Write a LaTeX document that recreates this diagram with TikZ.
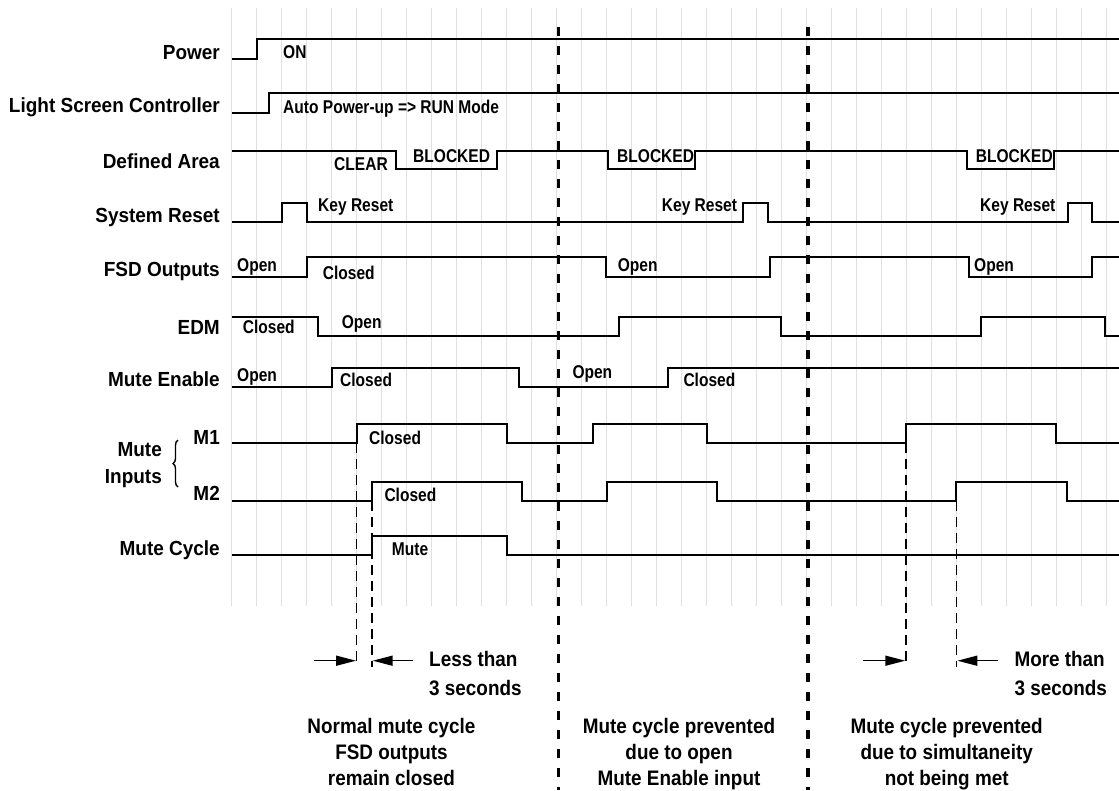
\documentclass[tikz,border=0pt]{standalone}
\usepackage{fontspec}
\setmainfont{Liberation Sans}
\newfontfamily\nf{Liberation Sans}[FakeStretch=0.84]
\newfontfamily\wf{Liberation Sans}[FakeStretch=0.93]
\newfontfamily\capf{Liberation Sans}[FakeStretch=0.9]
\usetikzlibrary{arrows.meta,decorations.pathreplacing}
\tikzset{
  sig/.style={line width=2pt,line join=miter},
  grid/.style={line width=0.9pt,draw=black!12},
  sep/.style={line width=3.3pt,dash pattern=on 8.5pt off 10.5pt},
  tmark/.style={line width=1.3pt,dash pattern=on 10pt off 6pt},
  lbl/.style={anchor=base east,inner sep=0pt,font=\wf\bfseries\fontsize{20.4}{20}\selectfont},
  st/.style={anchor=base west,inner sep=0pt,font=\nf\bfseries\fontsize{18.5}{20}\selectfont},
  bt/.style={anchor=base,inner sep=0pt,font=\capf\bfseries\fontsize{21}{24}\selectfont},
  bw/.style={anchor=base west,inner sep=0pt,font=\capf\bfseries\fontsize{21}{24}\selectfont},
  arr/.style={line width=1.5pt,-{Triangle[length=20pt,width=10pt]}}
}
\begin{document}
\begin{tikzpicture}[x=1pt,y=-1pt]
\useasboundingbox (0,0) rectangle (1119,790);
% grid
\foreach \k in {0,...,35} \draw[grid] ({231.7+25*\k},8) -- ({231.7+25*\k},606);
% left labels
\node[lbl] (lpow) at (220,59.3) {Power};
\node[lbl] (llsc) at (220,112.7) {Light Screen Controller};
\node[lbl] (lda) at (220,168.3) {Defined Area};
\node[lbl] (lsr) at (220,222.3) {System Reset};
\node[lbl] (lfsd) at (220,276.7) {FSD Outputs};
\node[lbl] (ledm) at (220,334.7) {EDM};
\node[lbl] (lme) at (220,386.7) {Mute Enable};
\node[lbl] (lm1) at (220,444.3) {M1};
\node[lbl] (lm2) at (220,500.7) {M2};
\node[lbl] (lmc) at (220,555) {Mute Cycle};
\node[lbl] (lmute) at (162,456.7) {Mute};
\node[lbl] (linp) at (162,483.3) {Inputs};
\draw[line width=1.4pt,decorate,decoration={brace,amplitude=5pt}] (178,487) -- (178,440);
% signals
\draw[sig] (232,59.3) -- (256.7,59.3) -- (256.7,39.3) -- (1119,39.3);
\draw[sig] (232,112.7) -- (269.3,112.7) -- (269.3,93.3) -- (1119,93.3);
\draw[sig] (232,150.7) -- (395.7,150.7) -- (395.7,169.3) -- (496.7,169.3) -- (496.7,150.7)
  -- (608.3,150.7) -- (608.3,169.3) -- (695,169.3) -- (695,150.7)
  -- (967.3,150.7) -- (967.3,169.3) -- (1054.3,169.3) -- (1054.3,150.7) -- (1119,150.7);
\draw[sig] (232,222.3) -- (282.3,222.3) -- (282.3,202.7) -- (306.7,202.7) -- (306.7,222.3)
  -- (743.3,222.3) -- (743.3,202.7) -- (767.7,202.7) -- (767.7,222.3)
  -- (1067.7,222.3) -- (1067.7,202.7) -- (1092.3,202.7) -- (1092.3,222.3) -- (1119,222.3);
\draw[sig] (232,276.7) -- (306.7,276.7) -- (306.7,257.3) -- (606,257.3) -- (606,276.7)
  -- (770,276.7) -- (770,257.3) -- (969.3,257.3) -- (969.3,276.7)
  -- (1092.3,276.7) -- (1092.3,257.3) -- (1119,257.3);
\draw[sig] (232,316.7) -- (317.7,316.7) -- (317.7,335.7) -- (619.3,335.7) -- (619.3,316.7)
  -- (781,316.7) -- (781,335.7) -- (980.7,335.7) -- (980.7,316.7)
  -- (1105.3,316.7) -- (1105.3,335.7) -- (1119,335.7);
\draw[sig] (232,386.7) -- (331.7,386.7) -- (331.7,367.7) -- (519,367.7) -- (519,386.7)
  -- (667.7,386.7) -- (667.7,367.7) -- (1119,367.7);
\draw[sig] (232,443.3) -- (356.7,443.3) -- (356.7,424.3) -- (506.7,424.3) -- (506.7,443.3)
  -- (592.7,443.3) -- (592.7,424.3) -- (706.7,424.3) -- (706.7,443.3)
  -- (906,443.3) -- (906,424.3) -- (1056,424.3) -- (1056,443.3) -- (1119,443.3);
\draw[sig] (232,501) -- (372,501) -- (372,481.7) -- (521.7,481.7) -- (521.7,501)
  -- (607.3,501) -- (607.3,481.7) -- (716.7,481.7) -- (716.7,501)
  -- (956,501) -- (956,481.7) -- (1067.3,481.7) -- (1067.3,501) -- (1119,501);
\draw[sig] (232,554.7) -- (372,554.7) -- (372,535.7) -- (506.7,535.7) -- (506.7,554.7) -- (1119,554.7);
% signal texts
\node[st] (ton) at (283,58.3) {ON};
\node[st] (tauto) at (283,113.3) {Auto Power-up => RUN Mode};
\node[st] (tclear) at (334,170) {CLEAR};
\node[st] (tb1) at (413,162.3) {BLOCKED};
\node[st] (tb2) at (617,162.3) {BLOCKED};
\node[st] (tb3) at (975.7,162.3) {BLOCKED};
\node[st] (tk1) at (318,211.7) {Key Reset};
\node[st] (tk2) at (661.7,211.7) {Key Reset};
\node[st] (tk3) at (980,211.7) {Key Reset};
\node[st] (tf1) at (237,271.7) {Open};
\node[st] (tf2) at (322.7,279.3) {Closed};
\node[st] (tf3) at (617.7,271.7) {Open};
\node[st] (tf4) at (974,271.7) {Open};
\node[st] (te1) at (242.7,333.3) {Closed};
\node[st] (te2) at (341.7,328.3) {Open};
\node[st] (tm1) at (237,381.7) {Open};
\node[st] (tm2) at (340,386.7) {Closed};
\node[st] (tm3) at (572.3,378.3) {Open};
\node[st] (tm4) at (683.3,386.7) {Closed};
\node[st] (ti1) at (369,444.3) {Closed};
\node[st] (ti2) at (384.3,501.7) {Closed};
\node[st] (tmute) at (391.7,555.7) {Mute};
% separators
\coordinate (s1t) at (558.5,27); \coordinate (s1b) at (558.5,790);
\coordinate (s2t) at (808,27); \coordinate (s2b) at (808,790);
\draw[sep] (s1t) -- (s1b);
\draw[sep] (s2t) -- (s2b);
% timing marks
\coordinate (d1t) at (356.7,443.3); \coordinate (d1b) at (356.7,667);
\coordinate (d2t) at (372,501); \coordinate (d2b) at (372,667);
\coordinate (d3t) at (906,443.3); \coordinate (d3b) at (906,667);
\coordinate (d4t) at (956.7,501); \coordinate (d4b) at (956.7,667);
\draw[tmark] (d1t) -- (d1b);
\draw[tmark] (d2t) -- (d2b);
\draw[tmark] (d3t) -- (d3b);
\draw[tmark] (d4t) -- (d4b);
\coordinate (a1s) at (314.3,660.7); \coordinate (a1e) at (356,660.7);
\coordinate (a2s) at (413.3,660.7); \coordinate (a2e) at (372.7,660.7);
\coordinate (a3s) at (863.3,660.7); \coordinate (a3e) at (905.3,660.7);
\coordinate (a4s) at (998.3,660.7); \coordinate (a4e) at (957.4,660.7);
\draw[arr] (a1s) -- (a1e);
\draw[arr] (a2s) -- (a2e);
\draw[arr] (a3s) -- (a3e);
\draw[arr] (a4s) -- (a4e);
\node[bw] (less1) at (429,666.7) {Less than};
\node[bw] (less2) at (429,695) {3 seconds};
\node[bw] (more1) at (1014.3,666.7) {More than};
\node[bw] (more2) at (1014.3,695) {3 seconds};
% captions
\node[bt] (c1a) at (391.5,733.3) {Normal mute cycle};
\node[bt] (c1b) at (391.5,759.3) {FSD outputs};
\node[bt] (c1c) at (391.5,785.3) {remain closed};
\node[bt] (c2a) at (679,733.3) {Mute cycle prevented};
\node[bt] (c2b) at (679,759.3) {due to open};
\node[bt] (c2c) at (679,785.3) {Mute Enable input};
\node[bt] (c3a) at (946.7,733.3) {Mute cycle prevented};
\node[bt] (c3b) at (946.7,759.3) {due to simultaneity};
\node[bt] (c3c) at (946.7,785.3) {not being met};
\end{tikzpicture}
\end{document}
